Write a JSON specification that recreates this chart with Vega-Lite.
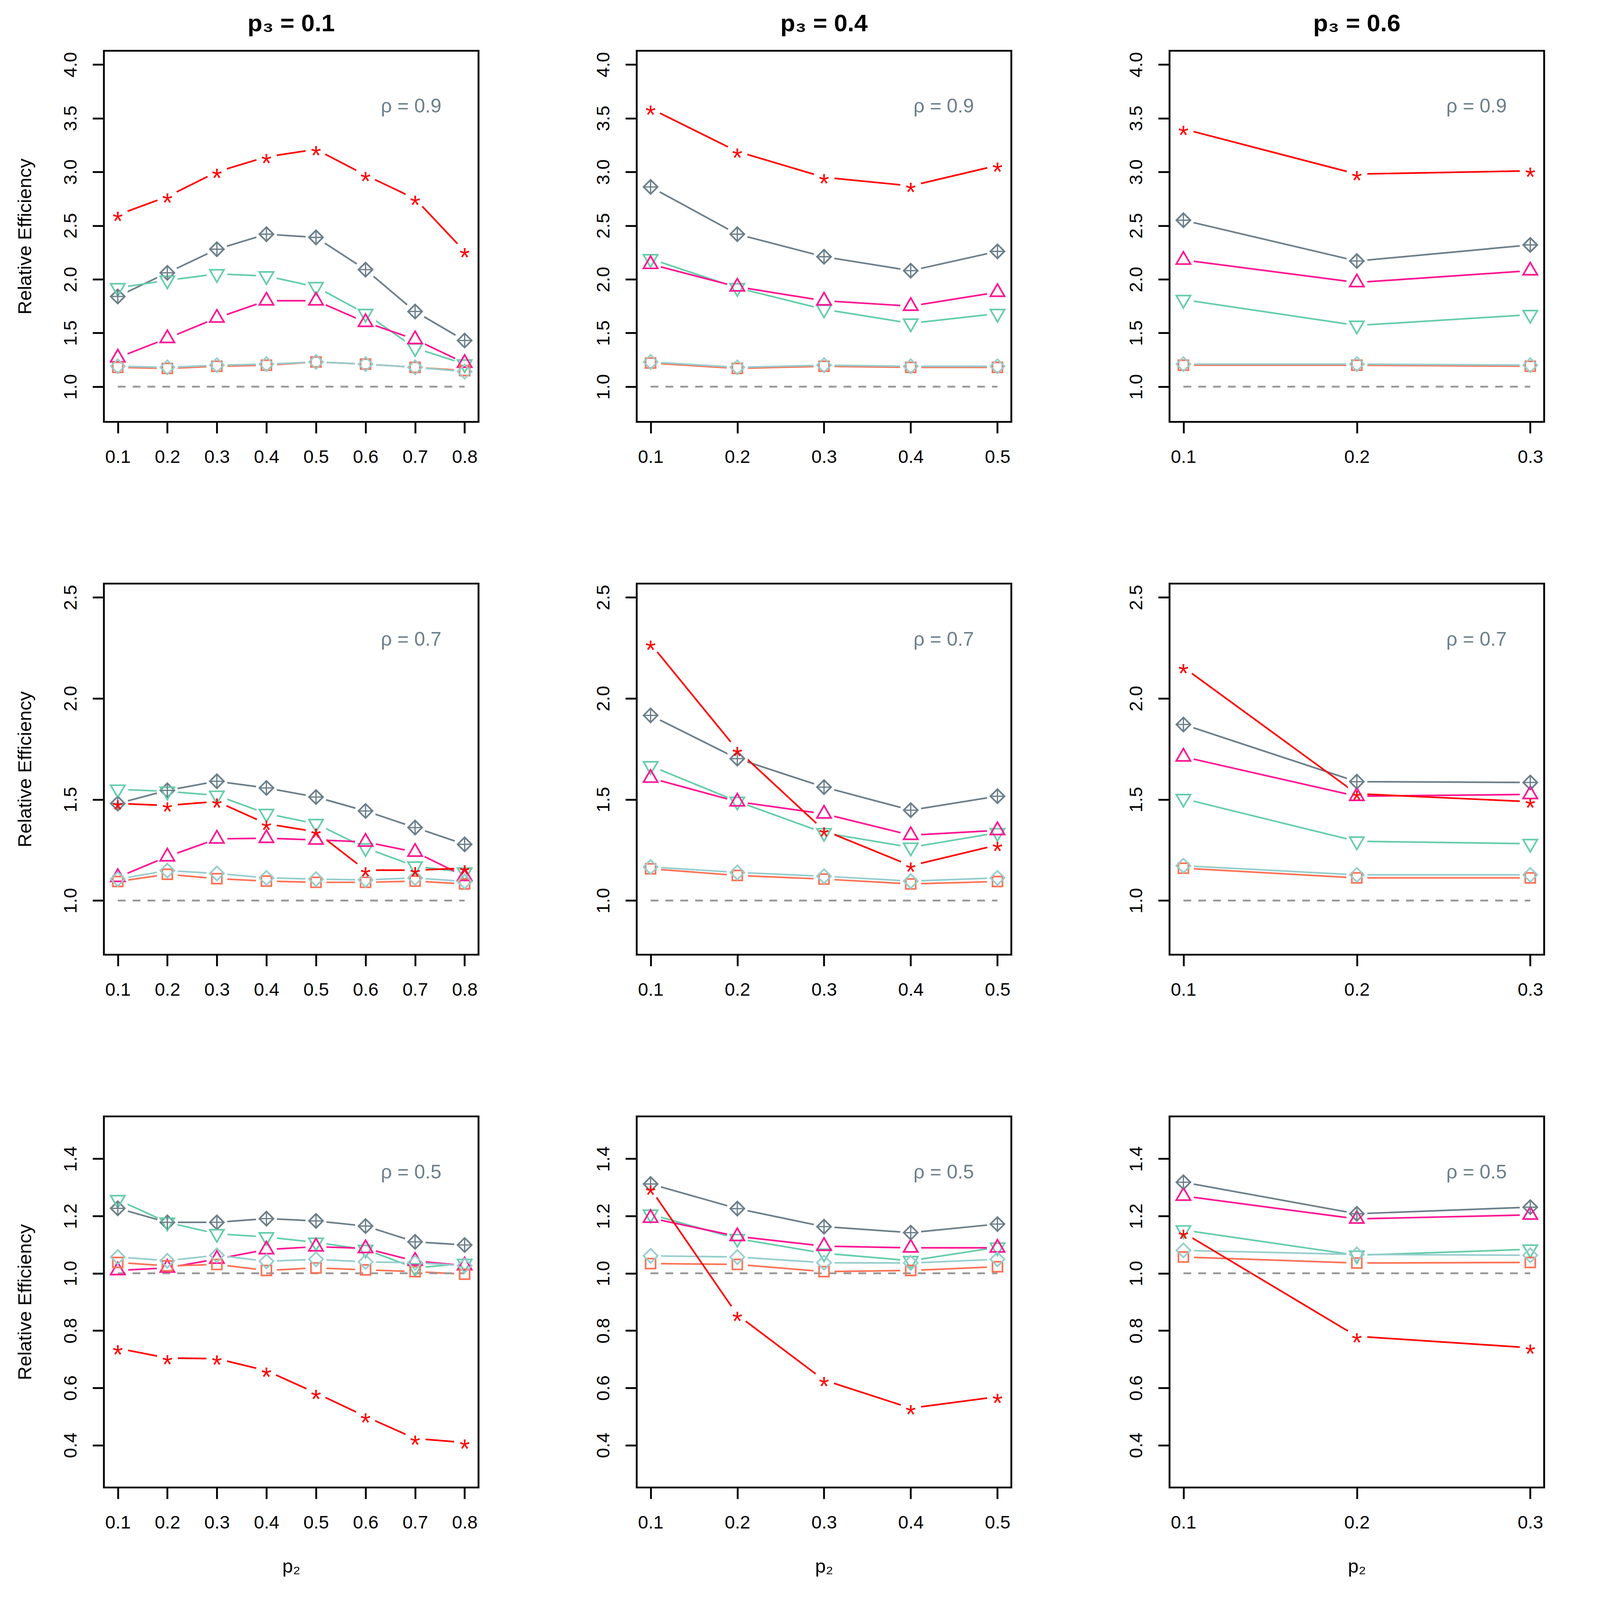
{
"$schema":"https://vega.github.io/schema/vega-lite/v6.json",
"padding":{"left":37,"top":27,"right":0,"bottom":0},
"background":"white",
"bounds":"flush",
"columns":3,
"spacing":{"row":414,"column":405},
"config":{
"view":{"stroke":"#000000","strokeWidth":4.7},
"font":"Liberation Sans",
"axis":{"grid":false,"domain":false,"ticks":true,"tickColor":"#000000","tickWidth":4.7,"tickSize":29,"labelFont":"Liberation Sans","labelFontSize":47,"labelColor":"#000000","labelOverlap":false,"labelFlush":false,"titleFont":"Liberation Sans","titleFontSize":49,"titleFontWeight":"normal","titleColor":"#000000"},
"axisX":{"labelPadding":38,"titlePadding":65},
"axisY":{"labelAngle":-90,"labelAlign":"center","labelBaseline":"alphabetic","labelPadding":42,"titlePadding":68},
"title":{"font":"Liberation Sans","fontSize":62,"fontWeight":"bold","color":"#000000","baseline":"alphabetic","offset":37,"anchor":"middle","frame":"group"}
},
"datasets":{
"main":[
{"p3":0.1,"rho":0.9,"series":"S2","p2":0.1,"re":1.84},{"p3":0.1,"rho":0.9,"series":"S2","p2":0.2,"re":2.06},{"p3":0.1,"rho":0.9,"series":"S2","p2":0.3,"re":2.28},{"p3":0.1,"rho":0.9,"series":"S2","p2":0.4,"re":2.42},{"p3":0.1,"rho":0.9,"series":"S2","p2":0.5,"re":2.39},{"p3":0.1,"rho":0.9,"series":"S2","p2":0.6,"re":2.09},{"p3":0.1,"rho":0.9,"series":"S2","p2":0.7,"re":1.70},{"p3":0.1,"rho":0.9,"series":"S2","p2":0.8,"re":1.43},
{"p3":0.1,"rho":0.9,"series":"S3","p2":0.1,"re":1.92},{"p3":0.1,"rho":0.9,"series":"S3","p2":0.2,"re":1.99},{"p3":0.1,"rho":0.9,"series":"S3","p2":0.3,"re":2.05},{"p3":0.1,"rho":0.9,"series":"S3","p2":0.4,"re":2.03},{"p3":0.1,"rho":0.9,"series":"S3","p2":0.5,"re":1.93},{"p3":0.1,"rho":0.9,"series":"S3","p2":0.6,"re":1.68},{"p3":0.1,"rho":0.9,"series":"S3","p2":0.7,"re":1.36},{"p3":0.1,"rho":0.9,"series":"S3","p2":0.8,"re":1.21},
{"p3":0.1,"rho":0.9,"series":"S4","p2":0.1,"re":1.27},{"p3":0.1,"rho":0.9,"series":"S4","p2":0.2,"re":1.45},{"p3":0.1,"rho":0.9,"series":"S4","p2":0.3,"re":1.64},{"p3":0.1,"rho":0.9,"series":"S4","p2":0.4,"re":1.80},{"p3":0.1,"rho":0.9,"series":"S4","p2":0.5,"re":1.80},{"p3":0.1,"rho":0.9,"series":"S4","p2":0.6,"re":1.60},{"p3":0.1,"rho":0.9,"series":"S4","p2":0.7,"re":1.44},{"p3":0.1,"rho":0.9,"series":"S4","p2":0.8,"re":1.22},
{"p3":0.1,"rho":0.9,"series":"S6","p2":0.1,"re":1.18},{"p3":0.1,"rho":0.9,"series":"S6","p2":0.2,"re":1.17},{"p3":0.1,"rho":0.9,"series":"S6","p2":0.3,"re":1.19},{"p3":0.1,"rho":0.9,"series":"S6","p2":0.4,"re":1.20},{"p3":0.1,"rho":0.9,"series":"S6","p2":0.5,"re":1.23},{"p3":0.1,"rho":0.9,"series":"S6","p2":0.6,"re":1.21},{"p3":0.1,"rho":0.9,"series":"S6","p2":0.7,"re":1.18},{"p3":0.1,"rho":0.9,"series":"S6","p2":0.8,"re":1.15},
{"p3":0.1,"rho":0.9,"series":"S5","p2":0.1,"re":1.19},{"p3":0.1,"rho":0.9,"series":"S5","p2":0.2,"re":1.18},{"p3":0.1,"rho":0.9,"series":"S5","p2":0.3,"re":1.20},{"p3":0.1,"rho":0.9,"series":"S5","p2":0.4,"re":1.21},{"p3":0.1,"rho":0.9,"series":"S5","p2":0.5,"re":1.23},{"p3":0.1,"rho":0.9,"series":"S5","p2":0.6,"re":1.21},{"p3":0.1,"rho":0.9,"series":"S5","p2":0.7,"re":1.18},{"p3":0.1,"rho":0.9,"series":"S5","p2":0.8,"re":1.14},
{"p3":0.1,"rho":0.9,"series":"S1","p2":0.1,"re":2.60},{"p3":0.1,"rho":0.9,"series":"S1","p2":0.2,"re":2.77},{"p3":0.1,"rho":0.9,"series":"S1","p2":0.3,"re":3.00},{"p3":0.1,"rho":0.9,"series":"S1","p2":0.4,"re":3.14},{"p3":0.1,"rho":0.9,"series":"S1","p2":0.5,"re":3.21},{"p3":0.1,"rho":0.9,"series":"S1","p2":0.6,"re":2.97},{"p3":0.1,"rho":0.9,"series":"S1","p2":0.7,"re":2.75},{"p3":0.1,"rho":0.9,"series":"S1","p2":0.8,"re":2.26},

{"p3":0.4,"rho":0.9,"series":"S2","p2":0.1,"re":2.86},{"p3":0.4,"rho":0.9,"series":"S2","p2":0.2,"re":2.42},{"p3":0.4,"rho":0.9,"series":"S2","p2":0.3,"re":2.21},{"p3":0.4,"rho":0.9,"series":"S2","p2":0.4,"re":2.08},{"p3":0.4,"rho":0.9,"series":"S2","p2":0.5,"re":2.26},
{"p3":0.4,"rho":0.9,"series":"S3","p2":0.1,"re":2.19},{"p3":0.4,"rho":0.9,"series":"S3","p2":0.2,"re":1.92},{"p3":0.4,"rho":0.9,"series":"S3","p2":0.3,"re":1.72},{"p3":0.4,"rho":0.9,"series":"S3","p2":0.4,"re":1.59},{"p3":0.4,"rho":0.9,"series":"S3","p2":0.5,"re":1.68},
{"p3":0.4,"rho":0.9,"series":"S4","p2":0.1,"re":2.14},{"p3":0.4,"rho":0.9,"series":"S4","p2":0.2,"re":1.93},{"p3":0.4,"rho":0.9,"series":"S4","p2":0.3,"re":1.80},{"p3":0.4,"rho":0.9,"series":"S4","p2":0.4,"re":1.75},{"p3":0.4,"rho":0.9,"series":"S4","p2":0.5,"re":1.88},
{"p3":0.4,"rho":0.9,"series":"S6","p2":0.1,"re":1.22},{"p3":0.4,"rho":0.9,"series":"S6","p2":0.2,"re":1.17},{"p3":0.4,"rho":0.9,"series":"S6","p2":0.3,"re":1.19},{"p3":0.4,"rho":0.9,"series":"S6","p2":0.4,"re":1.18},{"p3":0.4,"rho":0.9,"series":"S6","p2":0.5,"re":1.18},
{"p3":0.4,"rho":0.9,"series":"S5","p2":0.1,"re":1.23},{"p3":0.4,"rho":0.9,"series":"S5","p2":0.2,"re":1.18},{"p3":0.4,"rho":0.9,"series":"S5","p2":0.3,"re":1.20},{"p3":0.4,"rho":0.9,"series":"S5","p2":0.4,"re":1.19},{"p3":0.4,"rho":0.9,"series":"S5","p2":0.5,"re":1.19},
{"p3":0.4,"rho":0.9,"series":"S1","p2":0.1,"re":3.59},{"p3":0.4,"rho":0.9,"series":"S1","p2":0.2,"re":3.19},{"p3":0.4,"rho":0.9,"series":"S1","p2":0.3,"re":2.95},{"p3":0.4,"rho":0.9,"series":"S1","p2":0.4,"re":2.87},{"p3":0.4,"rho":0.9,"series":"S1","p2":0.5,"re":3.06},

{"p3":0.6,"rho":0.9,"series":"S2","p2":0.1,"re":2.55},{"p3":0.6,"rho":0.9,"series":"S2","p2":0.2,"re":2.17},{"p3":0.6,"rho":0.9,"series":"S2","p2":0.3,"re":2.32},
{"p3":0.6,"rho":0.9,"series":"S3","p2":0.1,"re":1.81},{"p3":0.6,"rho":0.9,"series":"S3","p2":0.2,"re":1.57},{"p3":0.6,"rho":0.9,"series":"S3","p2":0.3,"re":1.67},
{"p3":0.6,"rho":0.9,"series":"S4","p2":0.1,"re":2.18},{"p3":0.6,"rho":0.9,"series":"S4","p2":0.2,"re":1.97},{"p3":0.6,"rho":0.9,"series":"S4","p2":0.3,"re":2.08},
{"p3":0.6,"rho":0.9,"series":"S6","p2":0.1,"re":1.20},{"p3":0.6,"rho":0.9,"series":"S6","p2":0.2,"re":1.20},{"p3":0.6,"rho":0.9,"series":"S6","p2":0.3,"re":1.19},
{"p3":0.6,"rho":0.9,"series":"S5","p2":0.1,"re":1.21},{"p3":0.6,"rho":0.9,"series":"S5","p2":0.2,"re":1.21},{"p3":0.6,"rho":0.9,"series":"S5","p2":0.3,"re":1.20},
{"p3":0.6,"rho":0.9,"series":"S1","p2":0.1,"re":3.40},{"p3":0.6,"rho":0.9,"series":"S1","p2":0.2,"re":2.98},{"p3":0.6,"rho":0.9,"series":"S1","p2":0.3,"re":3.01},

{"p3":0.1,"rho":0.7,"series":"S2","p2":0.1,"re":1.48},{"p3":0.1,"rho":0.7,"series":"S2","p2":0.2,"re":1.545},{"p3":0.1,"rho":0.7,"series":"S2","p2":0.3,"re":1.59},{"p3":0.1,"rho":0.7,"series":"S2","p2":0.4,"re":1.557},{"p3":0.1,"rho":0.7,"series":"S2","p2":0.5,"re":1.512},{"p3":0.1,"rho":0.7,"series":"S2","p2":0.6,"re":1.443},{"p3":0.1,"rho":0.7,"series":"S2","p2":0.7,"re":1.361},{"p3":0.1,"rho":0.7,"series":"S2","p2":0.8,"re":1.278},
{"p3":0.1,"rho":0.7,"series":"S3","p2":0.1,"re":1.55},{"p3":0.1,"rho":0.7,"series":"S3","p2":0.2,"re":1.54},{"p3":0.1,"rho":0.7,"series":"S3","p2":0.3,"re":1.52},{"p3":0.1,"rho":0.7,"series":"S3","p2":0.4,"re":1.43},{"p3":0.1,"rho":0.7,"series":"S3","p2":0.5,"re":1.38},{"p3":0.1,"rho":0.7,"series":"S3","p2":0.6,"re":1.26},{"p3":0.1,"rho":0.7,"series":"S3","p2":0.7,"re":1.17},{"p3":0.1,"rho":0.7,"series":"S3","p2":0.8,"re":1.14},
{"p3":0.1,"rho":0.7,"series":"S4","p2":0.1,"re":1.115},{"p3":0.1,"rho":0.7,"series":"S4","p2":0.2,"re":1.217},{"p3":0.1,"rho":0.7,"series":"S4","p2":0.3,"re":1.305},{"p3":0.1,"rho":0.7,"series":"S4","p2":0.4,"re":1.308},{"p3":0.1,"rho":0.7,"series":"S4","p2":0.5,"re":1.30},{"p3":0.1,"rho":0.7,"series":"S4","p2":0.6,"re":1.29},{"p3":0.1,"rho":0.7,"series":"S4","p2":0.7,"re":1.24},{"p3":0.1,"rho":0.7,"series":"S4","p2":0.8,"re":1.12},
{"p3":0.1,"rho":0.7,"series":"S6","p2":0.1,"re":1.094},{"p3":0.1,"rho":0.7,"series":"S6","p2":0.2,"re":1.13},{"p3":0.1,"rho":0.7,"series":"S6","p2":0.3,"re":1.108},{"p3":0.1,"rho":0.7,"series":"S6","p2":0.4,"re":1.096},{"p3":0.1,"rho":0.7,"series":"S6","p2":0.5,"re":1.09},{"p3":0.1,"rho":0.7,"series":"S6","p2":0.6,"re":1.09},{"p3":0.1,"rho":0.7,"series":"S6","p2":0.7,"re":1.096},{"p3":0.1,"rho":0.7,"series":"S6","p2":0.8,"re":1.082},
{"p3":0.1,"rho":0.7,"series":"S5","p2":0.1,"re":1.106},{"p3":0.1,"rho":0.7,"series":"S5","p2":0.2,"re":1.148},{"p3":0.1,"rho":0.7,"series":"S5","p2":0.3,"re":1.134},{"p3":0.1,"rho":0.7,"series":"S5","p2":0.4,"re":1.112},{"p3":0.1,"rho":0.7,"series":"S5","p2":0.5,"re":1.106},{"p3":0.1,"rho":0.7,"series":"S5","p2":0.6,"re":1.102},{"p3":0.1,"rho":0.7,"series":"S5","p2":0.7,"re":1.112},{"p3":0.1,"rho":0.7,"series":"S5","p2":0.8,"re":1.094},
{"p3":0.1,"rho":0.7,"series":"S1","p2":0.1,"re":1.48},{"p3":0.1,"rho":0.7,"series":"S1","p2":0.2,"re":1.47},{"p3":0.1,"rho":0.7,"series":"S1","p2":0.3,"re":1.49},{"p3":0.1,"rho":0.7,"series":"S1","p2":0.4,"re":1.38},{"p3":0.1,"rho":0.7,"series":"S1","p2":0.5,"re":1.34},{"p3":0.1,"rho":0.7,"series":"S1","p2":0.6,"re":1.15},{"p3":0.1,"rho":0.7,"series":"S1","p2":0.7,"re":1.15},{"p3":0.1,"rho":0.7,"series":"S1","p2":0.8,"re":1.16},

{"p3":0.4,"rho":0.7,"series":"S2","p2":0.1,"re":1.916},{"p3":0.4,"rho":0.7,"series":"S2","p2":0.2,"re":1.702},{"p3":0.4,"rho":0.7,"series":"S2","p2":0.3,"re":1.561},{"p3":0.4,"rho":0.7,"series":"S2","p2":0.4,"re":1.447},{"p3":0.4,"rho":0.7,"series":"S2","p2":0.5,"re":1.516},
{"p3":0.4,"rho":0.7,"series":"S3","p2":0.1,"re":1.666},{"p3":0.4,"rho":0.7,"series":"S3","p2":0.2,"re":1.49},{"p3":0.4,"rho":0.7,"series":"S3","p2":0.3,"re":1.335},{"p3":0.4,"rho":0.7,"series":"S3","p2":0.4,"re":1.263},{"p3":0.4,"rho":0.7,"series":"S3","p2":0.5,"re":1.335},
{"p3":0.4,"rho":0.7,"series":"S4","p2":0.1,"re":1.606},{"p3":0.4,"rho":0.7,"series":"S4","p2":0.2,"re":1.489},{"p3":0.4,"rho":0.7,"series":"S4","p2":0.3,"re":1.429},{"p3":0.4,"rho":0.7,"series":"S4","p2":0.4,"re":1.323},{"p3":0.4,"rho":0.7,"series":"S4","p2":0.5,"re":1.347},
{"p3":0.4,"rho":0.7,"series":"S6","p2":0.1,"re":1.157},{"p3":0.4,"rho":0.7,"series":"S6","p2":0.2,"re":1.124},{"p3":0.4,"rho":0.7,"series":"S6","p2":0.3,"re":1.106},{"p3":0.4,"rho":0.7,"series":"S6","p2":0.4,"re":1.082},{"p3":0.4,"rho":0.7,"series":"S6","p2":0.5,"re":1.094},
{"p3":0.4,"rho":0.7,"series":"S5","p2":0.1,"re":1.166},{"p3":0.4,"rho":0.7,"series":"S5","p2":0.2,"re":1.139},{"p3":0.4,"rho":0.7,"series":"S5","p2":0.3,"re":1.12},{"p3":0.4,"rho":0.7,"series":"S5","p2":0.4,"re":1.096},{"p3":0.4,"rho":0.7,"series":"S5","p2":0.5,"re":1.112},
{"p3":0.4,"rho":0.7,"series":"S1","p2":0.1,"re":2.27},{"p3":0.4,"rho":0.7,"series":"S1","p2":0.2,"re":1.745},{"p3":0.4,"rho":0.7,"series":"S1","p2":0.3,"re":1.347},{"p3":0.4,"rho":0.7,"series":"S1","p2":0.4,"re":1.172},{"p3":0.4,"rho":0.7,"series":"S1","p2":0.5,"re":1.275},

{"p3":0.6,"rho":0.7,"series":"S2","p2":0.1,"re":1.871},{"p3":0.6,"rho":0.7,"series":"S2","p2":0.2,"re":1.588},{"p3":0.6,"rho":0.7,"series":"S2","p2":0.3,"re":1.584},
{"p3":0.6,"rho":0.7,"series":"S3","p2":0.1,"re":1.504},{"p3":0.6,"rho":0.7,"series":"S3","p2":0.2,"re":1.293},{"p3":0.6,"rho":0.7,"series":"S3","p2":0.3,"re":1.281},
{"p3":0.6,"rho":0.7,"series":"S4","p2":0.1,"re":1.711},{"p3":0.6,"rho":0.7,"series":"S4","p2":0.2,"re":1.516},{"p3":0.6,"rho":0.7,"series":"S4","p2":0.3,"re":1.525},
{"p3":0.6,"rho":0.7,"series":"S6","p2":0.1,"re":1.160},{"p3":0.6,"rho":0.7,"series":"S6","p2":0.2,"re":1.112},{"p3":0.6,"rho":0.7,"series":"S6","p2":0.3,"re":1.112},
{"p3":0.6,"rho":0.7,"series":"S5","p2":0.1,"re":1.172},{"p3":0.6,"rho":0.7,"series":"S5","p2":0.2,"re":1.127},{"p3":0.6,"rho":0.7,"series":"S5","p2":0.3,"re":1.127},
{"p3":0.6,"rho":0.7,"series":"S1","p2":0.1,"re":2.154},{"p3":0.6,"rho":0.7,"series":"S1","p2":0.2,"re":1.528},{"p3":0.6,"rho":0.7,"series":"S1","p2":0.3,"re":1.489},

{"p3":0.1,"rho":0.5,"series":"S2","p2":0.1,"re":1.227},{"p3":0.1,"rho":0.5,"series":"S2","p2":0.2,"re":1.178},{"p3":0.1,"rho":0.5,"series":"S2","p2":0.3,"re":1.178},{"p3":0.1,"rho":0.5,"series":"S2","p2":0.4,"re":1.191},{"p3":0.1,"rho":0.5,"series":"S2","p2":0.5,"re":1.183},{"p3":0.1,"rho":0.5,"series":"S2","p2":0.6,"re":1.165},{"p3":0.1,"rho":0.5,"series":"S2","p2":0.7,"re":1.110},{"p3":0.1,"rho":0.5,"series":"S2","p2":0.8,"re":1.099},
{"p3":0.1,"rho":0.5,"series":"S3","p2":0.1,"re":1.257},{"p3":0.1,"rho":0.5,"series":"S3","p2":0.2,"re":1.178},{"p3":0.1,"rho":0.5,"series":"S3","p2":0.3,"re":1.138},{"p3":0.1,"rho":0.5,"series":"S3","p2":0.4,"re":1.127},{"p3":0.1,"rho":0.5,"series":"S3","p2":0.5,"re":1.108},{"p3":0.1,"rho":0.5,"series":"S3","p2":0.6,"re":1.083},{"p3":0.1,"rho":0.5,"series":"S3","p2":0.7,"re":1.019},{"p3":0.1,"rho":0.5,"series":"S3","p2":0.8,"re":1.034},
{"p3":0.1,"rho":0.5,"series":"S4","p2":0.1,"re":1.010},{"p3":0.1,"rho":0.5,"series":"S4","p2":0.2,"re":1.019},{"p3":0.1,"rho":0.5,"series":"S4","p2":0.3,"re":1.050},{"p3":0.1,"rho":0.5,"series":"S4","p2":0.4,"re":1.083},{"p3":0.1,"rho":0.5,"series":"S4","p2":0.5,"re":1.093},{"p3":0.1,"rho":0.5,"series":"S4","p2":0.6,"re":1.087},{"p3":0.1,"rho":0.5,"series":"S4","p2":0.7,"re":1.043},{"p3":0.1,"rho":0.5,"series":"S4","p2":0.8,"re":1.027},
{"p3":0.1,"rho":0.5,"series":"S6","p2":0.1,"re":1.038},{"p3":0.1,"rho":0.5,"series":"S6","p2":0.2,"re":1.026},{"p3":0.1,"rho":0.5,"series":"S6","p2":0.3,"re":1.031},{"p3":0.1,"rho":0.5,"series":"S6","p2":0.4,"re":1.010},{"p3":0.1,"rho":0.5,"series":"S6","p2":0.5,"re":1.019},{"p3":0.1,"rho":0.5,"series":"S6","p2":0.6,"re":1.012},{"p3":0.1,"rho":0.5,"series":"S6","p2":0.7,"re":1.006},{"p3":0.1,"rho":0.5,"series":"S6","p2":0.8,"re":0.997},
{"p3":0.1,"rho":0.5,"series":"S5","p2":0.1,"re":1.057},{"p3":0.1,"rho":0.5,"series":"S5","p2":0.2,"re":1.044},{"p3":0.1,"rho":0.5,"series":"S5","p2":0.3,"re":1.063},{"p3":0.1,"rho":0.5,"series":"S5","p2":0.4,"re":1.042},{"p3":0.1,"rho":0.5,"series":"S5","p2":0.5,"re":1.049},{"p3":0.1,"rho":0.5,"series":"S5","p2":0.6,"re":1.040},{"p3":0.1,"rho":0.5,"series":"S5","p2":0.7,"re":1.037},{"p3":0.1,"rho":0.5,"series":"S5","p2":0.8,"re":1.027},
{"p3":0.1,"rho":0.5,"series":"S1","p2":0.1,"re":0.738},{"p3":0.1,"rho":0.5,"series":"S1","p2":0.2,"re":0.704},{"p3":0.1,"rho":0.5,"series":"S1","p2":0.3,"re":0.702},{"p3":0.1,"rho":0.5,"series":"S1","p2":0.4,"re":0.660},{"p3":0.1,"rho":0.5,"series":"S1","p2":0.5,"re":0.582},{"p3":0.1,"rho":0.5,"series":"S1","p2":0.6,"re":0.500},{"p3":0.1,"rho":0.5,"series":"S1","p2":0.7,"re":0.423},{"p3":0.1,"rho":0.5,"series":"S1","p2":0.8,"re":0.409},

{"p3":0.4,"rho":0.5,"series":"S2","p2":0.1,"re":1.312},{"p3":0.4,"rho":0.5,"series":"S2","p2":0.2,"re":1.226},{"p3":0.4,"rho":0.5,"series":"S2","p2":0.3,"re":1.163},{"p3":0.4,"rho":0.5,"series":"S2","p2":0.4,"re":1.142},{"p3":0.4,"rho":0.5,"series":"S2","p2":0.5,"re":1.172},
{"p3":0.4,"rho":0.5,"series":"S3","p2":0.1,"re":1.206},{"p3":0.4,"rho":0.5,"series":"S3","p2":0.2,"re":1.121},{"p3":0.4,"rho":0.5,"series":"S3","p2":0.3,"re":1.070},{"p3":0.4,"rho":0.5,"series":"S3","p2":0.4,"re":1.044},{"p3":0.4,"rho":0.5,"series":"S3","p2":0.5,"re":1.091},
{"p3":0.4,"rho":0.5,"series":"S4","p2":0.1,"re":1.193},{"p3":0.4,"rho":0.5,"series":"S4","p2":0.2,"re":1.129},{"p3":0.4,"rho":0.5,"series":"S4","p2":0.3,"re":1.095},{"p3":0.4,"rho":0.5,"series":"S4","p2":0.4,"re":1.089},{"p3":0.4,"rho":0.5,"series":"S4","p2":0.5,"re":1.089},
{"p3":0.4,"rho":0.5,"series":"S6","p2":0.1,"re":1.034},{"p3":0.4,"rho":0.5,"series":"S6","p2":0.2,"re":1.031},{"p3":0.4,"rho":0.5,"series":"S6","p2":0.3,"re":1.006},{"p3":0.4,"rho":0.5,"series":"S6","p2":0.4,"re":1.010},{"p3":0.4,"rho":0.5,"series":"S6","p2":0.5,"re":1.023},
{"p3":0.4,"rho":0.5,"series":"S5","p2":0.1,"re":1.061},{"p3":0.4,"rho":0.5,"series":"S5","p2":0.2,"re":1.057},{"p3":0.4,"rho":0.5,"series":"S5","p2":0.3,"re":1.037},{"p3":0.4,"rho":0.5,"series":"S5","p2":0.4,"re":1.036},{"p3":0.4,"rho":0.5,"series":"S5","p2":0.5,"re":1.049},
{"p3":0.4,"rho":0.5,"series":"S1","p2":0.1,"re":1.295},{"p3":0.4,"rho":0.5,"series":"S1","p2":0.2,"re":0.855},{"p3":0.4,"rho":0.5,"series":"S1","p2":0.3,"re":0.627},{"p3":0.4,"rho":0.5,"series":"S1","p2":0.4,"re":0.529},{"p3":0.4,"rho":0.5,"series":"S1","p2":0.5,"re":0.569},

{"p3":0.6,"rho":0.5,"series":"S2","p2":0.1,"re":1.318},{"p3":0.6,"rho":0.5,"series":"S2","p2":0.2,"re":1.208},{"p3":0.6,"rho":0.5,"series":"S2","p2":0.3,"re":1.231},
{"p3":0.6,"rho":0.5,"series":"S3","p2":0.1,"re":1.151},{"p3":0.6,"rho":0.5,"series":"S3","p2":0.2,"re":1.063},{"p3":0.6,"rho":0.5,"series":"S3","p2":0.3,"re":1.084},
{"p3":0.6,"rho":0.5,"series":"S4","p2":0.1,"re":1.270},{"p3":0.6,"rho":0.5,"series":"S4","p2":0.2,"re":1.190},{"p3":0.6,"rho":0.5,"series":"S4","p2":0.3,"re":1.204},
{"p3":0.6,"rho":0.5,"series":"S6","p2":0.1,"re":1.057},{"p3":0.6,"rho":0.5,"series":"S6","p2":0.2,"re":1.036},{"p3":0.6,"rho":0.5,"series":"S6","p2":0.3,"re":1.038},
{"p3":0.6,"rho":0.5,"series":"S5","p2":0.1,"re":1.080},{"p3":0.6,"rho":0.5,"series":"S5","p2":0.2,"re":1.066},{"p3":0.6,"rho":0.5,"series":"S5","p2":0.3,"re":1.063},
{"p3":0.6,"rho":0.5,"series":"S1","p2":0.1,"re":1.142},{"p3":0.6,"rho":0.5,"series":"S1","p2":0.2,"re":0.780},{"p3":0.6,"rho":0.5,"series":"S1","p2":0.3,"re":0.740}
]
},
"concat":[
{"width":959,"height":950,"title":{"text":"p₃ = 0.1"},"data":{"name":"main"},
 "transform":[{"filter":"datum.p3 == 0.1 && datum.rho == 0.9"}],
 "encoding":{"x":{"field":"p2","type":"quantitative","title":null,"scale":{"domain":[0.072,0.828],"nice":false,"zero":false},"axis":{"values":[0.1,0.2,0.3,0.4,0.5,0.6,0.7,0.8],"format":".1f"}},
  "y":{"field":"re","type":"quantitative","title":"Relative Efficiency","scale":{"domain":[0.672,4.128],"nice":false,"zero":false},"axis":{"values":[1,1.5,2,2.5,3,3.5,4],"format":".1f"}}},
 "layer":[
  {"mark":{"type":"line","strokeWidth":4.2},"encoding":{"color":{"field":"series","type":"nominal","scale":{"domain":["S1","S2","S3","S4","S5","S6"],"range":["#FF0000","#6C7F8A","#66CDAA","#FF1493","#96CDCD","#FF7256"]},"legend":null}}},
  {"mark":{"type":"point","shape":"circle","filled":true,"color":"#FFFFFF","size":2900,"opacity":1,"strokeWidth":0}},
  {"transform":[{"filter":"datum.series == 'S2' && datum.p2 == 0.1"}],"mark":{"type":"rule","color":"#999999","strokeWidth":4.7,"strokeDash":[20,18]},"encoding":{"x":{"datum":0.1},"x2":{"datum":0.8},"y":{"datum":1}}},
  {"transform":[{"filter":"datum.series != 'S1'"}],"mark":{"type":"point","filled":false,"size":1408,"strokeWidth":4.2,"opacity":1},"encoding":{"color":{"field":"series","type":"nominal","legend":null},"shape":{"field":"series","type":"nominal","scale":{"domain":["S2","S3","S4","S5","S6"],"range":["M-0.96,0L0,-0.96L0.96,0L0,0.96Z","M0,1.12L0.97,-0.56L-0.97,-0.56Z","M0,-1.12L0.97,0.56L-0.97,0.56Z","M-0.96,0L0,-0.96L0.96,0L0,0.96Z","M-0.68,-0.68L0.68,-0.68L0.68,0.68L-0.68,0.68Z"]},"legend":null}}},
  {"transform":[{"filter":"datum.series == 'S2'"}],"mark":{"type":"point","filled":false,"size":1408,"strokeWidth":3.3,"opacity":1,"color":"#6C7F8A","shape":"M-0.96,0L0.96,0M0,-0.96L0,0.96"}},
  {"transform":[{"filter":"datum.series == 'S1'"}],"mark":{"type":"text","text":"*","fontSize":68,"color":"#FF0000","baseline":"alphabetic","dy":39}},
  {"transform":[{"filter":"datum.series == 'S2' && datum.p2 == 0.1"}],"mark":{"type":"text","text":"ρ = 0.9","fontSize":50,"color":"#6C7F8A","align":"center","baseline":"middle"},"encoding":{"x":{"datum":0.692},"y":{"datum":3.607}}}
 ]},
{"width":959,"height":950,"title":{"text":"p₃ = 0.4"},"data":{"name":"main"},
 "transform":[{"filter":"datum.p3 == 0.4 && datum.rho == 0.9"}],
 "encoding":{"x":{"field":"p2","type":"quantitative","title":null,"scale":{"domain":[0.084,0.516],"nice":false,"zero":false},"axis":{"values":[0.1,0.2,0.3,0.4,0.5],"format":".1f"}},
  "y":{"field":"re","type":"quantitative","title":null,"scale":{"domain":[0.672,4.128],"nice":false,"zero":false},"axis":{"values":[1,1.5,2,2.5,3,3.5,4],"format":".1f"}}},
 "layer":[
  {"mark":{"type":"line","strokeWidth":4.2},"encoding":{"color":{"field":"series","type":"nominal","scale":{"domain":["S1","S2","S3","S4","S5","S6"],"range":["#FF0000","#6C7F8A","#66CDAA","#FF1493","#96CDCD","#FF7256"]},"legend":null}}},
  {"mark":{"type":"point","shape":"circle","filled":true,"color":"#FFFFFF","size":2900,"opacity":1,"strokeWidth":0}},
  {"transform":[{"filter":"datum.series == 'S2' && datum.p2 == 0.1"}],"mark":{"type":"rule","color":"#999999","strokeWidth":4.7,"strokeDash":[20,18]},"encoding":{"x":{"datum":0.1},"x2":{"datum":0.5},"y":{"datum":1}}},
  {"transform":[{"filter":"datum.series != 'S1'"}],"mark":{"type":"point","filled":false,"size":1408,"strokeWidth":4.2,"opacity":1},"encoding":{"color":{"field":"series","type":"nominal","legend":null},"shape":{"field":"series","type":"nominal","scale":{"domain":["S2","S3","S4","S5","S6"],"range":["M-0.96,0L0,-0.96L0.96,0L0,0.96Z","M0,1.12L0.97,-0.56L-0.97,-0.56Z","M0,-1.12L0.97,0.56L-0.97,0.56Z","M-0.96,0L0,-0.96L0.96,0L0,0.96Z","M-0.68,-0.68L0.68,-0.68L0.68,0.68L-0.68,0.68Z"]},"legend":null}}},
  {"transform":[{"filter":"datum.series == 'S2'"}],"mark":{"type":"point","filled":false,"size":1408,"strokeWidth":3.3,"opacity":1,"color":"#6C7F8A","shape":"M-0.96,0L0.96,0M0,-0.96L0,0.96"}},
  {"transform":[{"filter":"datum.series == 'S1'"}],"mark":{"type":"text","text":"*","fontSize":68,"color":"#FF0000","baseline":"alphabetic","dy":39}},
  {"transform":[{"filter":"datum.series == 'S2' && datum.p2 == 0.1"}],"mark":{"type":"text","text":"ρ = 0.9","fontSize":50,"color":"#6C7F8A","align":"center","baseline":"middle"},"encoding":{"x":{"datum":0.438},"y":{"datum":3.607}}}
 ]},
{"width":959,"height":950,"title":{"text":"p₃ = 0.6"},"data":{"name":"main"},
 "transform":[{"filter":"datum.p3 == 0.6 && datum.rho == 0.9"}],
 "encoding":{"x":{"field":"p2","type":"quantitative","title":null,"scale":{"domain":[0.092,0.308],"nice":false,"zero":false},"axis":{"values":[0.1,0.2,0.3],"format":".1f"}},
  "y":{"field":"re","type":"quantitative","title":null,"scale":{"domain":[0.672,4.128],"nice":false,"zero":false},"axis":{"values":[1,1.5,2,2.5,3,3.5,4],"format":".1f"}}},
 "layer":[
  {"mark":{"type":"line","strokeWidth":4.2},"encoding":{"color":{"field":"series","type":"nominal","scale":{"domain":["S1","S2","S3","S4","S5","S6"],"range":["#FF0000","#6C7F8A","#66CDAA","#FF1493","#96CDCD","#FF7256"]},"legend":null}}},
  {"mark":{"type":"point","shape":"circle","filled":true,"color":"#FFFFFF","size":2900,"opacity":1,"strokeWidth":0}},
  {"transform":[{"filter":"datum.series == 'S2' && datum.p2 == 0.1"}],"mark":{"type":"rule","color":"#999999","strokeWidth":4.7,"strokeDash":[20,18]},"encoding":{"x":{"datum":0.1},"x2":{"datum":0.3},"y":{"datum":1}}},
  {"transform":[{"filter":"datum.series != 'S1'"}],"mark":{"type":"point","filled":false,"size":1408,"strokeWidth":4.2,"opacity":1},"encoding":{"color":{"field":"series","type":"nominal","legend":null},"shape":{"field":"series","type":"nominal","scale":{"domain":["S2","S3","S4","S5","S6"],"range":["M-0.96,0L0,-0.96L0.96,0L0,0.96Z","M0,1.12L0.97,-0.56L-0.97,-0.56Z","M0,-1.12L0.97,0.56L-0.97,0.56Z","M-0.96,0L0,-0.96L0.96,0L0,0.96Z","M-0.68,-0.68L0.68,-0.68L0.68,0.68L-0.68,0.68Z"]},"legend":null}}},
  {"transform":[{"filter":"datum.series == 'S2'"}],"mark":{"type":"point","filled":false,"size":1408,"strokeWidth":3.3,"opacity":1,"color":"#6C7F8A","shape":"M-0.96,0L0.96,0M0,-0.96L0,0.96"}},
  {"transform":[{"filter":"datum.series == 'S1'"}],"mark":{"type":"text","text":"*","fontSize":68,"color":"#FF0000","baseline":"alphabetic","dy":39}},
  {"transform":[{"filter":"datum.series == 'S2' && datum.p2 == 0.1"}],"mark":{"type":"text","text":"ρ = 0.9","fontSize":50,"color":"#6C7F8A","align":"center","baseline":"middle"},"encoding":{"x":{"datum":0.269},"y":{"datum":3.607}}}
 ]},
{"width":959,"height":950,"data":{"name":"main"},
 "transform":[{"filter":"datum.p3 == 0.1 && datum.rho == 0.7"}],
 "encoding":{"x":{"field":"p2","type":"quantitative","title":null,"scale":{"domain":[0.072,0.828],"nice":false,"zero":false},"axis":{"values":[0.1,0.2,0.3,0.4,0.5,0.6,0.7,0.8],"format":".1f"}},
  "y":{"field":"re","type":"quantitative","title":"Relative Efficiency","scale":{"domain":[0.732,2.568],"nice":false,"zero":false},"axis":{"values":[1,1.5,2,2.5],"format":".1f"}}},
 "layer":[
  {"mark":{"type":"line","strokeWidth":4.2},"encoding":{"color":{"field":"series","type":"nominal","scale":{"domain":["S1","S2","S3","S4","S5","S6"],"range":["#FF0000","#6C7F8A","#66CDAA","#FF1493","#96CDCD","#FF7256"]},"legend":null}}},
  {"mark":{"type":"point","shape":"circle","filled":true,"color":"#FFFFFF","size":2900,"opacity":1,"strokeWidth":0}},
  {"transform":[{"filter":"datum.series == 'S2' && datum.p2 == 0.1"}],"mark":{"type":"rule","color":"#999999","strokeWidth":4.7,"strokeDash":[20,18]},"encoding":{"x":{"datum":0.1},"x2":{"datum":0.8},"y":{"datum":1}}},
  {"transform":[{"filter":"datum.series != 'S1'"}],"mark":{"type":"point","filled":false,"size":1408,"strokeWidth":4.2,"opacity":1},"encoding":{"color":{"field":"series","type":"nominal","legend":null},"shape":{"field":"series","type":"nominal","scale":{"domain":["S2","S3","S4","S5","S6"],"range":["M-0.96,0L0,-0.96L0.96,0L0,0.96Z","M0,1.12L0.97,-0.56L-0.97,-0.56Z","M0,-1.12L0.97,0.56L-0.97,0.56Z","M-0.96,0L0,-0.96L0.96,0L0,0.96Z","M-0.68,-0.68L0.68,-0.68L0.68,0.68L-0.68,0.68Z"]},"legend":null}}},
  {"transform":[{"filter":"datum.series == 'S2'"}],"mark":{"type":"point","filled":false,"size":1408,"strokeWidth":3.3,"opacity":1,"color":"#6C7F8A","shape":"M-0.96,0L0.96,0M0,-0.96L0,0.96"}},
  {"transform":[{"filter":"datum.series == 'S1'"}],"mark":{"type":"text","text":"*","fontSize":68,"color":"#FF0000","baseline":"alphabetic","dy":39}},
  {"transform":[{"filter":"datum.series == 'S2' && datum.p2 == 0.1"}],"mark":{"type":"text","text":"ρ = 0.7","fontSize":50,"color":"#6C7F8A","align":"center","baseline":"middle"},"encoding":{"x":{"datum":0.692},"y":{"datum":2.29}}}
 ]},
{"width":959,"height":950,"data":{"name":"main"},
 "transform":[{"filter":"datum.p3 == 0.4 && datum.rho == 0.7"}],
 "encoding":{"x":{"field":"p2","type":"quantitative","title":null,"scale":{"domain":[0.084,0.516],"nice":false,"zero":false},"axis":{"values":[0.1,0.2,0.3,0.4,0.5],"format":".1f"}},
  "y":{"field":"re","type":"quantitative","title":null,"scale":{"domain":[0.732,2.568],"nice":false,"zero":false},"axis":{"values":[1,1.5,2,2.5],"format":".1f"}}},
 "layer":[
  {"mark":{"type":"line","strokeWidth":4.2},"encoding":{"color":{"field":"series","type":"nominal","scale":{"domain":["S1","S2","S3","S4","S5","S6"],"range":["#FF0000","#6C7F8A","#66CDAA","#FF1493","#96CDCD","#FF7256"]},"legend":null}}},
  {"mark":{"type":"point","shape":"circle","filled":true,"color":"#FFFFFF","size":2900,"opacity":1,"strokeWidth":0}},
  {"transform":[{"filter":"datum.series == 'S2' && datum.p2 == 0.1"}],"mark":{"type":"rule","color":"#999999","strokeWidth":4.7,"strokeDash":[20,18]},"encoding":{"x":{"datum":0.1},"x2":{"datum":0.5},"y":{"datum":1}}},
  {"transform":[{"filter":"datum.series != 'S1'"}],"mark":{"type":"point","filled":false,"size":1408,"strokeWidth":4.2,"opacity":1},"encoding":{"color":{"field":"series","type":"nominal","legend":null},"shape":{"field":"series","type":"nominal","scale":{"domain":["S2","S3","S4","S5","S6"],"range":["M-0.96,0L0,-0.96L0.96,0L0,0.96Z","M0,1.12L0.97,-0.56L-0.97,-0.56Z","M0,-1.12L0.97,0.56L-0.97,0.56Z","M-0.96,0L0,-0.96L0.96,0L0,0.96Z","M-0.68,-0.68L0.68,-0.68L0.68,0.68L-0.68,0.68Z"]},"legend":null}}},
  {"transform":[{"filter":"datum.series == 'S2'"}],"mark":{"type":"point","filled":false,"size":1408,"strokeWidth":3.3,"opacity":1,"color":"#6C7F8A","shape":"M-0.96,0L0.96,0M0,-0.96L0,0.96"}},
  {"transform":[{"filter":"datum.series == 'S1'"}],"mark":{"type":"text","text":"*","fontSize":68,"color":"#FF0000","baseline":"alphabetic","dy":39}},
  {"transform":[{"filter":"datum.series == 'S2' && datum.p2 == 0.1"}],"mark":{"type":"text","text":"ρ = 0.7","fontSize":50,"color":"#6C7F8A","align":"center","baseline":"middle"},"encoding":{"x":{"datum":0.438},"y":{"datum":2.29}}}
 ]},
{"width":959,"height":950,"data":{"name":"main"},
 "transform":[{"filter":"datum.p3 == 0.6 && datum.rho == 0.7"}],
 "encoding":{"x":{"field":"p2","type":"quantitative","title":null,"scale":{"domain":[0.092,0.308],"nice":false,"zero":false},"axis":{"values":[0.1,0.2,0.3],"format":".1f"}},
  "y":{"field":"re","type":"quantitative","title":null,"scale":{"domain":[0.732,2.568],"nice":false,"zero":false},"axis":{"values":[1,1.5,2,2.5],"format":".1f"}}},
 "layer":[
  {"mark":{"type":"line","strokeWidth":4.2},"encoding":{"color":{"field":"series","type":"nominal","scale":{"domain":["S1","S2","S3","S4","S5","S6"],"range":["#FF0000","#6C7F8A","#66CDAA","#FF1493","#96CDCD","#FF7256"]},"legend":null}}},
  {"mark":{"type":"point","shape":"circle","filled":true,"color":"#FFFFFF","size":2900,"opacity":1,"strokeWidth":0}},
  {"transform":[{"filter":"datum.series == 'S2' && datum.p2 == 0.1"}],"mark":{"type":"rule","color":"#999999","strokeWidth":4.7,"strokeDash":[20,18]},"encoding":{"x":{"datum":0.1},"x2":{"datum":0.3},"y":{"datum":1}}},
  {"transform":[{"filter":"datum.series != 'S1'"}],"mark":{"type":"point","filled":false,"size":1408,"strokeWidth":4.2,"opacity":1},"encoding":{"color":{"field":"series","type":"nominal","legend":null},"shape":{"field":"series","type":"nominal","scale":{"domain":["S2","S3","S4","S5","S6"],"range":["M-0.96,0L0,-0.96L0.96,0L0,0.96Z","M0,1.12L0.97,-0.56L-0.97,-0.56Z","M0,-1.12L0.97,0.56L-0.97,0.56Z","M-0.96,0L0,-0.96L0.96,0L0,0.96Z","M-0.68,-0.68L0.68,-0.68L0.68,0.68L-0.68,0.68Z"]},"legend":null}}},
  {"transform":[{"filter":"datum.series == 'S2'"}],"mark":{"type":"point","filled":false,"size":1408,"strokeWidth":3.3,"opacity":1,"color":"#6C7F8A","shape":"M-0.96,0L0.96,0M0,-0.96L0,0.96"}},
  {"transform":[{"filter":"datum.series == 'S1'"}],"mark":{"type":"text","text":"*","fontSize":68,"color":"#FF0000","baseline":"alphabetic","dy":39}},
  {"transform":[{"filter":"datum.series == 'S2' && datum.p2 == 0.1"}],"mark":{"type":"text","text":"ρ = 0.7","fontSize":50,"color":"#6C7F8A","align":"center","baseline":"middle"},"encoding":{"x":{"datum":0.269},"y":{"datum":2.29}}}
 ]},
{"width":959,"height":950,"data":{"name":"main"},
 "transform":[{"filter":"datum.p3 == 0.1 && datum.rho == 0.5"}],
 "encoding":{"x":{"field":"p2","type":"quantitative","title":"p₂","scale":{"domain":[0.072,0.828],"nice":false,"zero":false},"axis":{"values":[0.1,0.2,0.3,0.4,0.5,0.6,0.7,0.8],"format":".1f"}},
  "y":{"field":"re","type":"quantitative","title":"Relative Efficiency","scale":{"domain":[0.252,1.548],"nice":false,"zero":false},"axis":{"values":[0.4,0.6,0.8,1,1.2,1.4],"format":".1f"}}},
 "layer":[
  {"mark":{"type":"line","strokeWidth":4.2},"encoding":{"color":{"field":"series","type":"nominal","scale":{"domain":["S1","S2","S3","S4","S5","S6"],"range":["#FF0000","#6C7F8A","#66CDAA","#FF1493","#96CDCD","#FF7256"]},"legend":null}}},
  {"mark":{"type":"point","shape":"circle","filled":true,"color":"#FFFFFF","size":2900,"opacity":1,"strokeWidth":0}},
  {"transform":[{"filter":"datum.series == 'S2' && datum.p2 == 0.1"}],"mark":{"type":"rule","color":"#999999","strokeWidth":4.7,"strokeDash":[20,18]},"encoding":{"x":{"datum":0.1},"x2":{"datum":0.8},"y":{"datum":1}}},
  {"transform":[{"filter":"datum.series != 'S1'"}],"mark":{"type":"point","filled":false,"size":1408,"strokeWidth":4.2,"opacity":1},"encoding":{"color":{"field":"series","type":"nominal","legend":null},"shape":{"field":"series","type":"nominal","scale":{"domain":["S2","S3","S4","S5","S6"],"range":["M-0.96,0L0,-0.96L0.96,0L0,0.96Z","M0,1.12L0.97,-0.56L-0.97,-0.56Z","M0,-1.12L0.97,0.56L-0.97,0.56Z","M-0.96,0L0,-0.96L0.96,0L0,0.96Z","M-0.68,-0.68L0.68,-0.68L0.68,0.68L-0.68,0.68Z"]},"legend":null}}},
  {"transform":[{"filter":"datum.series == 'S2'"}],"mark":{"type":"point","filled":false,"size":1408,"strokeWidth":3.3,"opacity":1,"color":"#6C7F8A","shape":"M-0.96,0L0.96,0M0,-0.96L0,0.96"}},
  {"transform":[{"filter":"datum.series == 'S1'"}],"mark":{"type":"text","text":"*","fontSize":68,"color":"#FF0000","baseline":"alphabetic","dy":39}},
  {"transform":[{"filter":"datum.series == 'S2' && datum.p2 == 0.1"}],"mark":{"type":"text","text":"ρ = 0.5","fontSize":50,"color":"#6C7F8A","align":"center","baseline":"middle"},"encoding":{"x":{"datum":0.692},"y":{"datum":1.352}}}
 ]},
{"width":959,"height":950,"data":{"name":"main"},
 "transform":[{"filter":"datum.p3 == 0.4 && datum.rho == 0.5"}],
 "encoding":{"x":{"field":"p2","type":"quantitative","title":"p₂","scale":{"domain":[0.084,0.516],"nice":false,"zero":false},"axis":{"values":[0.1,0.2,0.3,0.4,0.5],"format":".1f"}},
  "y":{"field":"re","type":"quantitative","title":null,"scale":{"domain":[0.252,1.548],"nice":false,"zero":false},"axis":{"values":[0.4,0.6,0.8,1,1.2,1.4],"format":".1f"}}},
 "layer":[
  {"mark":{"type":"line","strokeWidth":4.2},"encoding":{"color":{"field":"series","type":"nominal","scale":{"domain":["S1","S2","S3","S4","S5","S6"],"range":["#FF0000","#6C7F8A","#66CDAA","#FF1493","#96CDCD","#FF7256"]},"legend":null}}},
  {"mark":{"type":"point","shape":"circle","filled":true,"color":"#FFFFFF","size":2900,"opacity":1,"strokeWidth":0}},
  {"transform":[{"filter":"datum.series == 'S2' && datum.p2 == 0.1"}],"mark":{"type":"rule","color":"#999999","strokeWidth":4.7,"strokeDash":[20,18]},"encoding":{"x":{"datum":0.1},"x2":{"datum":0.5},"y":{"datum":1}}},
  {"transform":[{"filter":"datum.series != 'S1'"}],"mark":{"type":"point","filled":false,"size":1408,"strokeWidth":4.2,"opacity":1},"encoding":{"color":{"field":"series","type":"nominal","legend":null},"shape":{"field":"series","type":"nominal","scale":{"domain":["S2","S3","S4","S5","S6"],"range":["M-0.96,0L0,-0.96L0.96,0L0,0.96Z","M0,1.12L0.97,-0.56L-0.97,-0.56Z","M0,-1.12L0.97,0.56L-0.97,0.56Z","M-0.96,0L0,-0.96L0.96,0L0,0.96Z","M-0.68,-0.68L0.68,-0.68L0.68,0.68L-0.68,0.68Z"]},"legend":null}}},
  {"transform":[{"filter":"datum.series == 'S2'"}],"mark":{"type":"point","filled":false,"size":1408,"strokeWidth":3.3,"opacity":1,"color":"#6C7F8A","shape":"M-0.96,0L0.96,0M0,-0.96L0,0.96"}},
  {"transform":[{"filter":"datum.series == 'S1'"}],"mark":{"type":"text","text":"*","fontSize":68,"color":"#FF0000","baseline":"alphabetic","dy":39}},
  {"transform":[{"filter":"datum.series == 'S2' && datum.p2 == 0.1"}],"mark":{"type":"text","text":"ρ = 0.5","fontSize":50,"color":"#6C7F8A","align":"center","baseline":"middle"},"encoding":{"x":{"datum":0.438},"y":{"datum":1.352}}}
 ]},
{"width":959,"height":950,"data":{"name":"main"},
 "transform":[{"filter":"datum.p3 == 0.6 && datum.rho == 0.5"}],
 "encoding":{"x":{"field":"p2","type":"quantitative","title":"p₂","scale":{"domain":[0.092,0.308],"nice":false,"zero":false},"axis":{"values":[0.1,0.2,0.3],"format":".1f"}},
  "y":{"field":"re","type":"quantitative","title":null,"scale":{"domain":[0.252,1.548],"nice":false,"zero":false},"axis":{"values":[0.4,0.6,0.8,1,1.2,1.4],"format":".1f"}}},
 "layer":[
  {"mark":{"type":"line","strokeWidth":4.2},"encoding":{"color":{"field":"series","type":"nominal","scale":{"domain":["S1","S2","S3","S4","S5","S6"],"range":["#FF0000","#6C7F8A","#66CDAA","#FF1493","#96CDCD","#FF7256"]},"legend":null}}},
  {"mark":{"type":"point","shape":"circle","filled":true,"color":"#FFFFFF","size":2900,"opacity":1,"strokeWidth":0}},
  {"transform":[{"filter":"datum.series == 'S2' && datum.p2 == 0.1"}],"mark":{"type":"rule","color":"#999999","strokeWidth":4.7,"strokeDash":[20,18]},"encoding":{"x":{"datum":0.1},"x2":{"datum":0.3},"y":{"datum":1}}},
  {"transform":[{"filter":"datum.series != 'S1'"}],"mark":{"type":"point","filled":false,"size":1408,"strokeWidth":4.2,"opacity":1},"encoding":{"color":{"field":"series","type":"nominal","legend":null},"shape":{"field":"series","type":"nominal","scale":{"domain":["S2","S3","S4","S5","S6"],"range":["M-0.96,0L0,-0.96L0.96,0L0,0.96Z","M0,1.12L0.97,-0.56L-0.97,-0.56Z","M0,-1.12L0.97,0.56L-0.97,0.56Z","M-0.96,0L0,-0.96L0.96,0L0,0.96Z","M-0.68,-0.68L0.68,-0.68L0.68,0.68L-0.68,0.68Z"]},"legend":null}}},
  {"transform":[{"filter":"datum.series == 'S2'"}],"mark":{"type":"point","filled":false,"size":1408,"strokeWidth":3.3,"opacity":1,"color":"#6C7F8A","shape":"M-0.96,0L0.96,0M0,-0.96L0,0.96"}},
  {"transform":[{"filter":"datum.series == 'S1'"}],"mark":{"type":"text","text":"*","fontSize":68,"color":"#FF0000","baseline":"alphabetic","dy":39}},
  {"transform":[{"filter":"datum.series == 'S2' && datum.p2 == 0.1"}],"mark":{"type":"text","text":"ρ = 0.5","fontSize":50,"color":"#6C7F8A","align":"center","baseline":"middle"},"encoding":{"x":{"datum":0.269},"y":{"datum":1.352}}}
 ]}
]
}
